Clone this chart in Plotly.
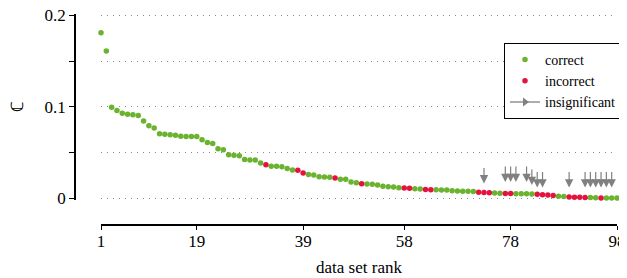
import plotly.graph_objects as go

# data set rank 1..98 and value of C
ranks = list(range(1, 99))
values = [
    0.181, 0.161, 0.0995, 0.096, 0.093, 0.092, 0.0915, 0.0907, 0.0845, 0.0795,
    0.077, 0.0707, 0.070, 0.0695, 0.069, 0.068, 0.0677, 0.0675, 0.0675, 0.064,
    0.061, 0.060, 0.0543, 0.0532, 0.0477, 0.047, 0.0466, 0.0426, 0.0419, 0.0419,
    0.0386, 0.0368, 0.035, 0.035, 0.0346, 0.0326, 0.0311, 0.0306, 0.0277, 0.026,
    0.0255, 0.0237, 0.0233, 0.023, 0.0222, 0.0208, 0.0208, 0.0178, 0.017, 0.016,
    0.0157, 0.0153, 0.0146, 0.0131, 0.0128, 0.0124, 0.0117, 0.0113, 0.011, 0.0106,
    0.0102, 0.0098, 0.0095, 0.0093, 0.0091, 0.009, 0.0084, 0.0081, 0.0077, 0.0077,
    0.0076, 0.0066, 0.0064, 0.0062, 0.0058, 0.0055, 0.0054, 0.0053, 0.0051, 0.0051,
    0.005, 0.0047, 0.0044, 0.004, 0.0036, 0.0031, 0.0024, 0.0019, 0.0014, 0.0012,
    0.0011, 0.0008, 0.0008, 0.0007, 0.0005, 0.0004, 0.0004, 0.0003,
]
incorrect_ranks = [32, 38, 39, 45, 50, 58, 59, 62, 63, 72, 73, 74, 77, 78,
                   83, 84, 85, 86, 89, 90, 91, 92, 95]
insignificant_ranks = [73, 77, 78, 79, 81, 82, 83, 84, 89, 92, 93, 94, 95, 96, 97]
insignificant_tips = [0.0162, 0.0178, 0.0178, 0.0178, 0.0178, 0.0145, 0.0118, 0.0118,
                      0.0118, 0.0118, 0.0118, 0.0118, 0.0118, 0.0118, 0.0118]
x_tick_vals = [1, 19, 39, 58, 78, 98]
y_tick_vals = [0, 0.05, 0.1, 0.15, 0.2]
y_tick_text = ["0", "", "0.1", "", "0.2"]

GREEN = "#69b32e"
RED = "#e3123f"
GRAY = "#808080"
FONT = "'Liberation Serif', 'Times New Roman', serif"

cx = [r for r, v in zip(ranks, values) if r not in incorrect_ranks]
cy = [v for r, v in zip(ranks, values) if r not in incorrect_ranks]
ix = [r for r, v in zip(ranks, values) if r in incorrect_ranks]
iy = [v for r, v in zip(ranks, values) if r in incorrect_ranks]

fig = go.Figure()
fig.add_trace(go.Scatter(x=cx, y=cy, mode="markers", name="correct",
                         marker=dict(color=GREEN, size=5.5), cliponaxis=False))
fig.add_trace(go.Scatter(x=ix, y=iy, mode="markers", name="incorrect",
                         marker=dict(color=RED, size=5.5), cliponaxis=False))
fig.add_trace(go.Scatter(x=[None], y=[None], mode="lines+markers", name="insignificant",
                         line=dict(color=GRAY, width=1.3),
                         marker=dict(symbol="triangle-right", color=GRAY, size=8)))

for r, t in zip(insignificant_ranks, insignificant_tips):
    fig.add_annotation(x=r, y=t, ax=0, ay=-17, showarrow=True, arrowhead=2,
                       arrowsize=1.4, arrowwidth=1.2, arrowcolor=GRAY, text="")

# the page body adds an 8px offset, so the figure is 8px smaller on each axis
W, H = 619, 270
ml, mr, mt, mb = 67, 10, 6, 53
pw = W - ml - mr
ph = H - mt - mb
EPS = 0.0016
x_axis_y = H - mb  # 217

fig.update_layout(
    width=W, height=H,
    margin=dict(l=ml, r=mr, t=mt, b=mb, pad=0, autoexpand=False),
    paper_bgcolor="white", plot_bgcolor="white",
    font=dict(family=FONT, size=17, color="black"),
    showlegend=True,
    legend=dict(x=(614 - ml) / pw, y=(x_axis_y - 35) / ph,
                xanchor="right", yanchor="top",
                bordercolor="black", borderwidth=1, bgcolor="white",
                font=dict(family=FONT, size=14)),
    xaxis=dict(domain=[(93 - ml) / pw, 1], range=[1, 98], anchor="free", position=0,
               automargin=False, ticklabeloverflow="allow",
               tickvals=x_tick_vals, ticks="outside", ticklen=4, tickwidth=1,
               tickcolor="black", showline=True, linecolor="black", linewidth=1.7,
               showgrid=False, zeroline=False, ticklabelstandoff=-3,
               title=dict(text="data set rank", standoff=10, font=dict(size=17))),
    yaxis=dict(domain=[(x_axis_y - 191.8) / ph, 1], range=[-EPS, 0.2 + EPS],
               anchor="free", position=0, automargin=False, ticklabeloverflow="allow",
               tickvals=y_tick_vals, ticktext=y_tick_text, ticks="outside", ticklen=5,
               tickwidth=1, tickcolor="black", showline=True, linecolor="black",
               linewidth=1.7, showgrid=True, gridcolor="#8a8a8a", griddash="1px,5px",
               gridwidth=1, zeroline=False, ticklabelstandoff=0,
               title=dict(text="ℂ", standoff=23, font=dict(size=17))),
)

fig.write_html("out.html")
